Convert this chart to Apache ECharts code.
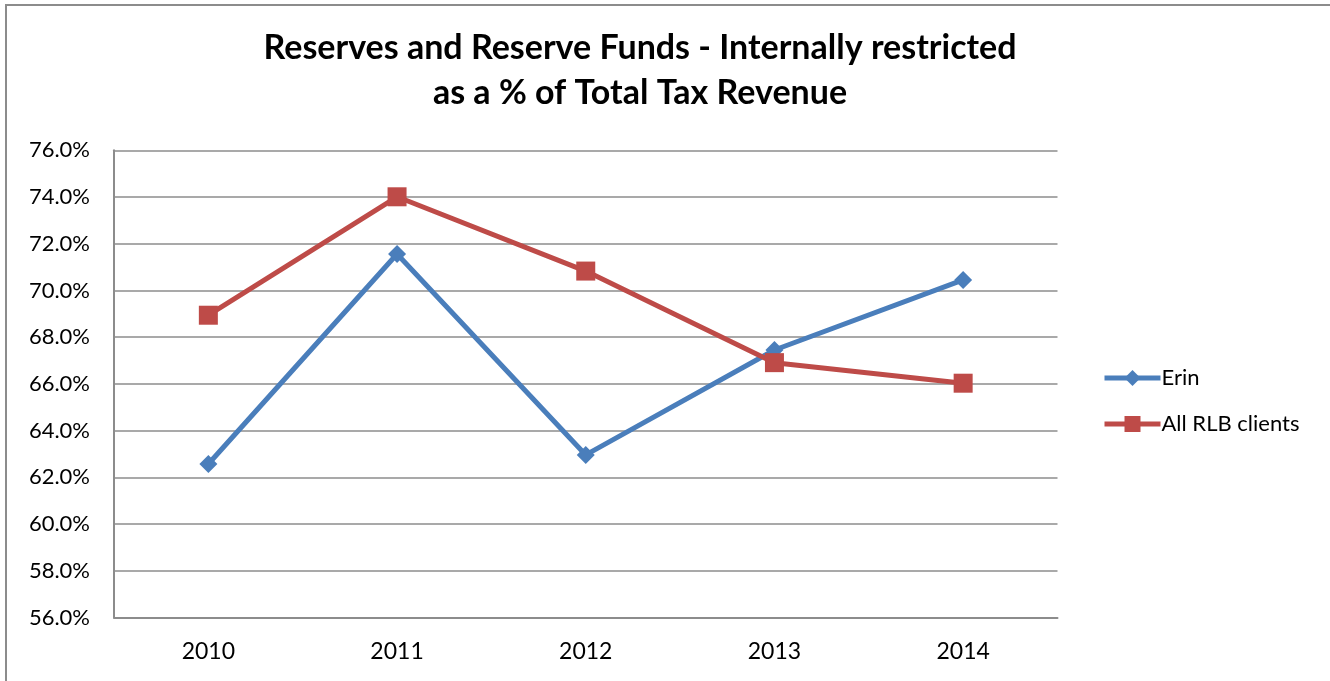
<!DOCTYPE html>
<html>
<head>
<meta charset="utf-8">
<script src="https://cdn.jsdelivr.net/npm/echarts@6/dist/echarts.min.js"></script>
<style>
  html, body { margin: 0; padding: 0; background: #fff; }
  #chart { width: 1330px; height: 681px; }
</style>
</head>
<body>
<div id="chart"></div>
<script>
// Reserve fund ratios by year (percent of total tax revenue)
const years = ['2010', '2011', '2012', '2013', '2014'];
const erin = [62.57, 71.56, 62.96, 67.45, 70.45];
const allRlbClients = [68.94, 74.01, 70.83, 66.91, 66.03];
const seriesNames = ['Erin', 'All RLB clients'];
const titleLines = ['Reserves and Reserve Funds - Internally restricted', 'as a % of Total Tax Revenue'];

const FONT = 'Lato, "Open Sans", sans-serif';
const BLUE = '#4a7ebb';
const RED = '#be4b48';
const chart = echarts.init(document.getElementById('chart'), null, { renderer: 'canvas' });

chart.setOption({
  animation: false,
  backgroundColor: '#ffffff',
  graphic: [{
    type: 'rect',
    shape: { x: 6, y: 5, width: 1340, height: 700 },
    style: { fill: 'none', stroke: '#8c8c8c', lineWidth: 2 },
    silent: true
  }],
  title: {
    text: titleLines.join('\n'),
    left: 635,
    textAlign: 'center',
    top: 21,
    textStyle: { fontFamily: FONT, fontWeight: 'bold', fontSize: 34, lineHeight: 45, color: '#000' }
  },
  legend: {
    orient: 'vertical',
    left: 1097,
    top: 362,
    itemWidth: 56,
    itemHeight: 20,
    itemGap: 24,
    textStyle: { fontFamily: FONT, fontSize: 22, color: '#000', padding: [0, 0, 0, -4] },
    data: [
      { name: seriesNames[0], lineStyle: { width: 5 } },
      { name: seriesNames[1], lineStyle: { width: 5 } }
    ]
  },
  grid: { left: 114, right: 272.5, top: 150.3, bottom: 63.5, containLabel: false },
  xAxis: {
    type: 'category',
    data: years,
    boundaryGap: true,
    axisLine: { lineStyle: { color: '#8c8c8c', width: 2 } },
    axisTick: { show: false },
    axisLabel: { fontFamily: FONT, fontSize: 23, color: '#000', margin: 23 }
  },
  yAxis: {
    type: 'value',
    min: 56,
    max: 76,
    interval: 2,
    axisLine: { show: true, lineStyle: { color: '#8c8c8c', width: 2 } },
    axisTick: { show: false },
    splitLine: { lineStyle: { color: '#8c8c8c', width: 1.5 } },
    axisLabel: {
      fontFamily: FONT, fontSize: 22, color: '#000', margin: 24,
      formatter: v => v.toFixed(1) + '%'
    }
  },
  series: [
    {
      name: seriesNames[0],
      type: 'line',
      data: erin,
      symbol: 'diamond',
      symbolSize: 18,
      color: BLUE,
      lineStyle: { width: 5, color: BLUE },
      itemStyle: { color: BLUE },
      z: 3
    },
    {
      name: seriesNames[1],
      type: 'line',
      data: allRlbClients,
      symbol: 'rect',
      symbolSize: 19,
      color: RED,
      lineStyle: { width: 5, color: RED },
      itemStyle: { color: RED },
      z: 4
    }
  ]
});
</script>
</body>
</html>
